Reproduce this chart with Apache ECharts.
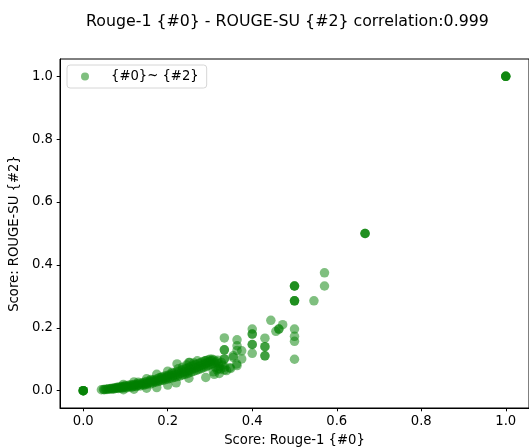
<!DOCTYPE html>
<html>
<head>
<meta charset="utf-8">
<script src="https://cdn.jsdelivr.net/npm/echarts@6/dist/echarts.min.js"></script>
<style>
  html, body { margin: 0; padding: 0; background: #fff; }
  #chart { width: 529px; height: 448px; }
</style>
</head>
<body>
<div id="chart"></div>
<script>
var titleText = 'Rouge-1 {#0} - ROUGE-SU {#2} correlation:0.999';
var xName = 'Score: Rouge-1 {#0}';
var yName = 'Score: ROUGE-SU {#2}';
var seriesName = '{#0}~ {#2}';
var tickValues = [0, 0.2, 0.4, 0.6, 0.8, 1.0];

// paired scores, one point per summary (duplicates overlap and look darker)
var scoreRouge1 = [
  0, 0, 0, 0, 0,
  0.043, 0.048, 0.05, 0.053, 0.056, 0.059, 0.062, 0.065, 0.067, 0.07,
  0.071, 0.074, 0.076, 0.078, 0.08, 0.082, 0.083, 0.086, 0.087, 0.09,
  0.091, 0.093, 0.095, 0.097, 0.1, 0.1, 0.102, 0.105, 0.107, 0.109,
  0.111, 0.113, 0.115, 0.117, 0.12, 0.12, 0.122, 0.125, 0.127, 0.129,
  0.131, 0.133, 0.135, 0.138, 0.14, 0.142, 0.143, 0.145, 0.147, 0.15,
  0.15, 0.152, 0.155, 0.157, 0.159, 0.161, 0.163, 0.165, 0.167, 0.169,
  0.171, 0.173, 0.175, 0.177, 0.179, 0.18, 0.182, 0.185, 0.186, 0.188,
  0.19, 0.192, 0.194, 0.196, 0.198, 0.2, 0.2, 0.203, 0.205, 0.207,
  0.209, 0.211, 0.213, 0.215, 0.217, 0.219, 0.221, 0.222, 0.223, 0.225,
  0.227, 0.229, 0.231, 0.233, 0.235, 0.237, 0.239, 0.24, 0.242, 0.244,
  0.245, 0.246, 0.248, 0.25, 0.25, 0.252, 0.252, 0.254, 0.256, 0.258,
  0.26, 0.262, 0.264, 0.266, 0.268, 0.27, 0.272, 0.273, 0.275, 0.277,
  0.279, 0.28, 0.282, 0.284, 0.286, 0.288, 0.29, 0.291, 0.293, 0.295,
  0.296, 0.298, 0.3, 0.3, 0.302, 0.304, 0.306, 0.308, 0.309, 0.311,
  0.313, 0.315, 0.317, 0.32, 0.322, 0.325, 0.327, 0.33,
  0.095, 0.12, 0.15, 0.174, 0.2, 0.22, 0.25, 0.29, 0.31, 0.322,
  0.095, 0.12, 0.15, 0.174, 0.2, 0.225, 0.25, 0.27, 0.29, 0.305,
  0.13, 0.16, 0.185, 0.21, 0.235, 0.262, 0.318, 0.32, 0.335,
  0.334, 0.334, 0.334, 0.334, 0.334, 0.334, 0.339, 0.347, 0.349, 0.355,
  0.355, 0.363, 0.364, 0.364, 0.364, 0.364, 0.375, 0.375,
  0.4, 0.4, 0.4, 0.4, 0.4, 0.4, 0.43, 0.43, 0.43, 0.43, 0.43,
  0.444, 0.456, 0.463, 0.463, 0.472,
  0.5, 0.5, 0.5, 0.5, 0.5, 0.5, 0.5, 0.5, 0.5, 0.5,
  0.546, 0.571, 0.571,
  0.667, 0.667, 0.667,
  1, 1, 1, 1
];
var scoreRougeSU = [
  0, 0, 0, 0, 0,
  0.003, 0.004, 0.003, 0.005, 0.004, 0.006, 0.005, 0.007, 0.006, 0.008,
  0.005, 0.009, 0.007, 0.01, 0.008, 0.011, 0.007, 0.012, 0.009, 0.01,
  0.013, 0.008, 0.012, 0.014, 0.011, 0.016, 0.009, 0.013, 0.017, 0.012,
  0.015, 0.019, 0.011, 0.016, 0.014, 0.02, 0.018, 0.013, 0.021, 0.016,
  0.019, 0.023, 0.015, 0.02, 0.025, 0.018, 0.022, 0.027, 0.019, 0.024,
  0.029, 0.021, 0.026, 0.031, 0.022, 0.028, 0.033, 0.025, 0.03, 0.035,
  0.027, 0.032, 0.038, 0.029, 0.034, 0.041, 0.031, 0.036, 0.043, 0.033,
  0.039, 0.046, 0.035, 0.041, 0.048, 0.037, 0.044, 0.05, 0.039, 0.046,
  0.053, 0.041, 0.048, 0.056, 0.043, 0.051, 0.059, 0.085, 0.045, 0.053,
  0.062, 0.047, 0.056, 0.065, 0.05, 0.059, 0.068, 0.052, 0.061, 0.071,
  0.082, 0.054, 0.064, 0.074, 0.057, 0.09, 0.066, 0.077, 0.06, 0.069,
  0.08, 0.062, 0.072, 0.083, 0.065, 0.075, 0.086, 0.068, 0.078, 0.089,
  0.07, 0.081, 0.092, 0.073, 0.084, 0.095, 0.076, 0.087, 0.079, 0.098,
  0.09, 0.081, 0.093, 0.1, 0.084, 0.095, 0.087, 0.06, 0.098, 0.089,
  0.074, 0.092, 0.066, 0.086, 0.078, 0.069, 0.09, 0.081,
  0.003, 0.005, 0.008, 0.01, 0.018, 0.025, 0.04, 0.042, 0.052, 0.055,
  0.02, 0.028, 0.038, 0.052, 0.062, 0.07, 0.09, 0.095, 0.095, 0.1,
  0.027, 0.036, 0.043, 0.058, 0.075, 0.088, 0.097, 0.07, 0.075,
  0.168, 0.13, 0.13, 0.101, 0.101, 0.066, 0.064, 0.073, 0.071, 0.106,
  0.111, 0.085, 0.162, 0.143, 0.128, 0.08, 0.127, 0.101,
  0.196, 0.18, 0.18, 0.147, 0.147, 0.119, 0.167, 0.14, 0.14, 0.111, 0.111,
  0.224, 0.189, 0.196, 0.196, 0.21,
  0.196, 0.173, 0.157, 0.1, 0.333, 0.333, 0.333, 0.286, 0.286, 0.286,
  0.286, 0.333, 0.375,
  0.5, 0.5, 0.5,
  1, 1, 1, 1
];

var points = [];
for (var i = 0; i < scoreRouge1.length; i++) {
  points.push([scoreRouge1[i], scoreRougeSU[i]]);
}

var font = 'DejaVu Sans';
var labelSize = 13.2;
var chart = echarts.init(document.getElementById('chart'));
chart.setOption({
  animation: false,
  title: {
    text: titleText,
    left: 81,
    top: 9,
    textStyle: { fontFamily: font, fontSize: 15.8, fontWeight: 'normal', color: '#000' }
  },
  legend: {
    left: 67,
    top: 65,
    orient: 'vertical',
    padding: [5, 8, 5, 14],
    borderColor: '#d6d6d6',
    borderWidth: 1,
    borderRadius: 3,
    itemWidth: 8,
    itemHeight: 8,
    icon: 'circle',
    formatter: function(name) { return '{s|}' + name; },
    textStyle: {
      fontFamily: font, fontSize: labelSize, color: '#000',
      rich: { s: { width: 17 } }
    },
    data: [seriesName]
  },
  grid: {
    left: 60,
    right: 0,
    top: 59,
    bottom: 40,
    outerBoundsMode: 'none',
    show: true,
    borderColor: '#000',
    borderWidth: 1
  },
  xAxis: {
    type: 'value',
    min: -0.055,
    max: 1.055,
    name: xName,
    nameLocation: 'middle',
    nameGap: 26,
    nameTextStyle: { fontFamily: font, fontSize: labelSize, color: '#000' },
    axisLine: { show: true, onZero: false, lineStyle: { color: '#000', width: 1 } },
    axisTick: { show: true, length: 3.3, customValues: tickValues, lineStyle: { color: '#000' } },
    axisLabel: {
      customValues: tickValues,
      margin: 7,
      fontFamily: font,
      fontSize: labelSize,
      color: '#000',
      formatter: function(v) { return v.toFixed(1); }
    },
    splitLine: { show: false }
  },
  yAxis: {
    type: 'value',
    min: -0.055,
    max: 1.055,
    name: yName,
    nameLocation: 'middle',
    nameGap: 36,
    nameTextStyle: { fontFamily: font, fontSize: labelSize, color: '#000' },
    axisLine: { show: true, onZero: false, lineStyle: { color: '#000', width: 1 } },
    axisTick: { show: true, length: 3.3, customValues: tickValues, lineStyle: { color: '#000' } },
    axisLabel: {
      customValues: tickValues,
      margin: 7,
      fontFamily: font,
      fontSize: labelSize,
      color: '#000',
      formatter: function(v) { return v.toFixed(1); }
    },
    splitLine: { show: false }
  },
  series: [{
    name: seriesName,
    type: 'scatter',
    symbolSize: 9.5,
    itemStyle: { color: 'green', opacity: 0.5 },
    data: points
  }]
});
</script>
</body>
</html>
